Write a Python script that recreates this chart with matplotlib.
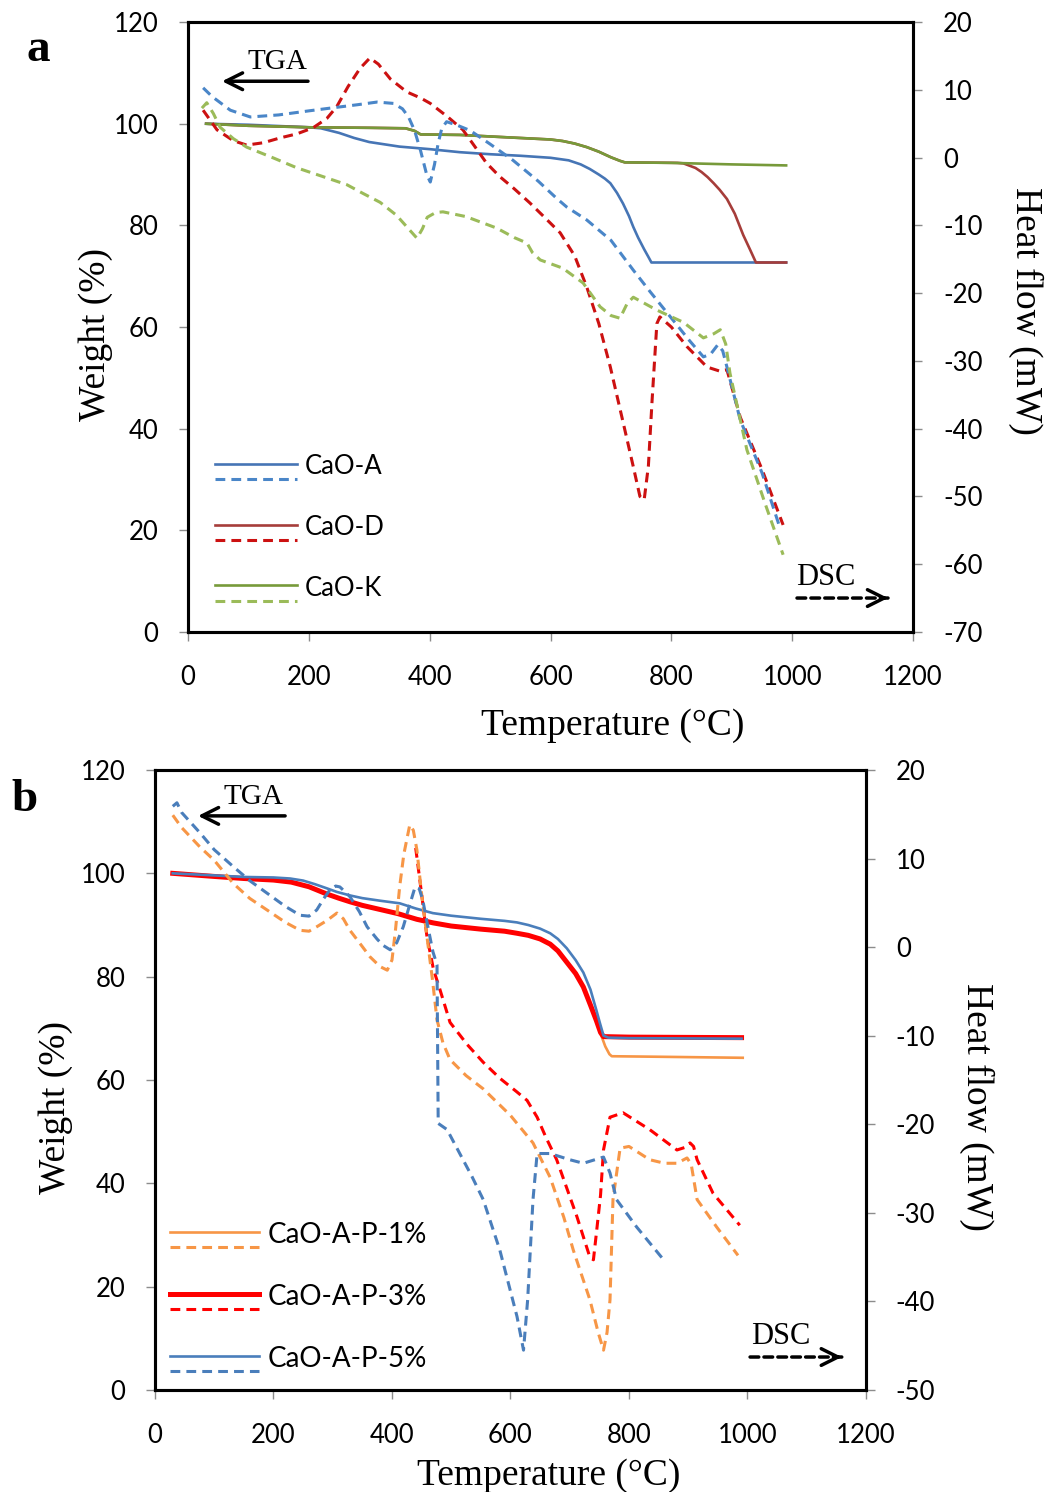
import numpy as np
import matplotlib
matplotlib.use("Agg")
from matplotlib import pyplot as plt
from matplotlib.lines import Line2D
from matplotlib.legend_handler import HandlerBase

plt.rcParams['font.family'] = ['Lato', 'DejaVu Sans']
plt.rcParams['axes.unicode_minus'] = False

# ---------------- panel a: CaO catalysts ----------------
# TGA (weight %, left axis)
tA_tga = [30, 100, 200, 220, 250, 275, 300, 350, 400, 450, 500, 550, 600, 630, 650, 665, 680, 690, 699, 710, 720, 730,
          737, 745, 755, 762, 767, 800, 900, 990]
wA_tga = [100.0, 99.8, 99.3, 99.1, 98.2, 97.2, 96.4, 95.5, 95.0, 94.4, 94.0, 93.7, 93.3, 92.8, 92.0, 91.1, 90.0, 89.2,
          88.3, 86.4, 84.3, 81.8, 79.7, 77.6, 75.3, 73.8, 72.7, 72.7, 72.7, 72.7]

tD_tga = [30, 100, 200, 300, 360, 375, 385, 450, 516, 600, 620, 640, 660, 680, 700, 715, 723, 810, 820, 840, 850, 860,
          870, 880, 892, 905, 919, 930, 940, 990]
wD_tga = [100.0, 99.6, 99.3, 99.2, 99.1, 98.6, 97.9, 97.8, 97.4, 96.9, 96.6, 96.1, 95.4, 94.5, 93.4, 92.7, 92.4, 92.3,
          92.2, 91.3, 90.5, 89.5, 88.3, 87.0, 85.2, 82.3, 78.1, 75.3, 72.7, 72.7]

tK_tga = [30, 100, 200, 300, 360, 375, 385, 450, 516, 600, 620, 640, 660, 680, 700, 715, 723, 800, 900, 990]
wK_tga = [100.0, 99.6, 99.3, 99.2, 99.1, 98.6, 97.9, 97.8, 97.4, 96.9, 96.6, 96.1, 95.4, 94.5, 93.4, 92.7, 92.4, 92.3,
          92.0, 91.8]

# DSC (heat flow mW, right axis)
tA_dsc = [25, 40, 70, 103, 150, 200, 235, 280, 313, 340, 355, 365, 375, 385, 395, 401, 408, 414, 420, 428, 445, 467,
          500, 538, 580, 610, 627, 660, 700, 737, 765, 793, 830, 853, 865, 877, 885, 892, 914, 950, 980]
hA_dsc = [10.3, 9.0, 7.0, 6.0, 6.3, 6.9, 7.3, 7.8, 8.2, 8.0, 7.2, 6.0, 4.0, 1.0, -2.5, -3.6, -1.0, 2.1, 4.3, 5.3, 4.8, 4.0,
          2.0, -0.4, -3.5, -6.0, -7.3, -9.2, -12.2, -16.6, -19.8, -22.9, -27.0, -29.4, -29.0, -27.6, -28.5, -30.9, -38.7,
          -46.5, -54.7]

tD_dsc = [25, 48, 75, 97, 125, 152, 180, 207, 230, 246, 265, 285, 301, 315, 335, 362, 385, 401, 430, 455, 475, 494,
          516, 540, 566, 590, 616, 640, 660, 680, 699, 720, 737, 748, 755, 762, 768, 776, 781, 800, 826, 859, 880, 892,
          914, 950, 985]
hD_dsc = [7.0, 4.1, 2.5, 1.85, 2.2, 2.9, 3.5, 4.4, 5.8, 7.5, 10.5, 13.2, 14.7, 13.8, 11.6, 9.7, 8.8, 8.0, 6.0, 4.1, 1.6,
          -0.8, -2.8, -4.6, -6.7, -8.8, -11.1, -14.5, -19.1, -24.5, -30.9, -39.0, -45.6, -50.0, -50.5, -45.5, -36.0,
          -24.5, -23.5, -25.0, -27.9, -30.9, -31.5, -31.3, -38.3, -46.0, -54.2]

tK_dsc = [23, 31, 42, 53, 75, 97, 140, 180, 220, 263, 290, 318, 345, 362, 379, 388, 396, 410, 422, 460, 511, 540, 561,
          570, 583, 620, 654, 682, 700, 715, 727, 737, 776, 820, 853, 870, 881, 890, 897, 925, 955, 985]
hK_dsc = [7.3, 8.1, 6.5, 4.5, 2.8, 1.55, 0.0, -1.5, -2.7, -4.0, -5.3, -6.6, -8.5, -10.2, -11.9, -10.5, -8.8, -8.1, -8.0,
          -8.7, -10.4, -11.8, -12.6, -14.0, -15.1, -16.3, -18.5, -22.0, -23.3, -23.7, -21.5, -20.6, -22.5, -24.3, -26.6,
          -26.0, -25.4, -27.5, -31.8, -43.1, -51.0, -58.6]

labels_a = ['CaO-A', 'CaO-D', 'CaO-K']

# ---------------- panel b: P-doped CaO-A ----------------
t1_tga = [30, 100, 150, 200, 230, 260, 290, 310, 329, 350, 380, 410, 442, 470, 500, 550, 590, 611, 630, 650, 667, 680,
          695, 710, 723, 735, 745, 752, 760, 767, 771, 850, 992]
w1_tga = [100.0, 99.4, 99.0, 98.7, 98.3, 97.4, 96.0, 95.2, 94.5, 93.8, 93.0, 92.2, 91.1, 90.4, 89.8, 89.2, 88.8, 88.4,
          88.0, 87.3, 86.3, 85.0, 82.8, 80.6, 78.0, 74.5, 71.5, 69.0, 66.5, 65.0, 64.6, 64.5, 64.3]

t3_tga = [30, 100, 150, 200, 230, 260, 290, 310, 329, 350, 380, 410, 442, 470, 500, 550, 590, 611, 630, 650, 667, 680,
          695, 710, 723, 735, 745, 752, 757, 800, 990]
w3_tga = [100.0, 99.4, 99.0, 98.7, 98.3, 97.4, 96.0, 95.2, 94.5, 93.8, 93.0, 92.2, 91.1, 90.4, 89.8, 89.2, 88.8, 88.4,
          88.0, 87.3, 86.3, 85.0, 82.8, 80.6, 78.0, 74.5, 71.5, 69.2, 68.4, 68.3, 68.2]

t5_tga = [30, 100, 150, 200, 228, 250, 270, 290, 307, 330, 350, 380, 413, 440, 469, 500, 550, 590, 611, 630, 650, 667,
          680, 695, 710, 723, 735, 745, 751, 757, 765, 800, 990]
w5_tga = [100.0, 99.6, 99.3, 99.2, 99.0, 98.6, 97.9, 97.1, 96.4, 95.7, 95.2, 94.7, 94.2, 93.2, 92.3, 91.8, 91.2, 90.8,
          90.5, 90.0, 89.3, 88.4, 87.3, 85.5, 83.2, 80.8, 77.5, 73.5, 71.0, 68.6, 68.2, 68.1, 68.0]

t1_dsc = [30, 45, 76, 100, 132, 160, 189, 220, 245, 260, 273, 290, 307, 318, 329, 345, 363, 380, 392, 400, 406, 413,
          420, 430, 436, 442, 450, 459, 468, 476, 486, 498, 525, 554, 600, 638, 667, 690, 706, 734, 748, 757, 763, 768,
          773, 785, 800, 835, 860, 881, 898, 905, 915, 948, 984]
h1_dsc = [14.9, 13.5, 11.3, 9.8, 7.2, 5.5, 4.2, 2.8, 1.9, 1.8, 2.3, 3.0, 3.85, 3.2, 1.9, 0.5, -1.1, -2.2, -2.6, -1.45,
          2.0, 6.85, 10.5, 13.8, 13.2, 11.0, 6.0, 1.2, -3.5, -8.2, -10.8, -12.7, -14.5, -16.0, -19.0, -22.1, -26.0,
          -30.5, -34.2, -39.8, -43.5, -45.5, -43.5, -39.8, -28.5, -22.7, -22.5, -24.0, -24.4, -24.4, -23.8, -24.5,
          -28.5, -31.6, -34.8]

t3_dsc = [440, 450, 459, 470, 481, 498, 527, 554, 582, 610, 628, 645, 660, 678, 712, 734, 740, 745, 752, 757, 768, 790,
          835, 881, 895, 903, 909, 915, 942, 987]
h3_dsc = [11.2, 6.0, 1.2, -2.5, -4.8, -8.5, -11.0, -13.0, -14.8, -16.3, -17.3, -19.2, -21.5, -24.0, -30.4, -35.0,
          -35.3, -32.3, -28.0, -22.9, -19.2, -18.7, -20.6, -22.9, -22.6, -22.1, -22.5, -24.0, -27.8, -31.4]

t5_dsc = [30, 37, 45, 76, 100, 132, 160, 189, 220, 245, 260, 273, 285, 295, 305, 312, 320, 329, 345, 358, 375, 385, 397,
          408, 419, 430, 439, 446, 452, 460, 469, 476, 478, 493, 535, 554, 582, 611, 622, 629, 638, 645, 667, 700, 723,
          757, 768, 779, 813, 856]
h5_dsc = [15.9, 16.3, 15.2, 12.9, 11.0, 9.1, 7.5, 6.1, 4.6, 3.6, 3.5, 4.2, 5.5, 6.45, 6.9, 6.8, 6.3, 5.7, 4.0, 2.3, 0.9,
          0.2, -0.3, 0.5, 2.3, 4.8, 6.8, 6.6, 5.3, 2.5, -0.5, -2.0, -19.9, -20.6, -25.9, -28.5, -34.2, -41.7, -45.5,
          -39.8, -28.5, -23.3, -23.3, -24.0, -24.4, -23.7, -25.5, -28.5, -31.6, -35.1]

labels_b = ['CaO-A-P-1%', 'CaO-A-P-3%', 'CaO-A-P-5%']

DASH = (0, (3.2, 2.0))
SERIF = 'Liberation Serif'


class StackedHandler(HandlerBase):
    """Legend key with the solid TGA line above the dashed DSC line."""
    def create_artists(self, legend, orig_handle, xdescent, ydescent,
                       width, height, fontsize, trans):
        solid, dashed = orig_handle
        y0 = (height - ydescent) / 2 + 1.0
        out = []
        for ln, yy in ((solid, y0), (dashed, y0 - 11.0)):
            l = Line2D([-xdescent, -xdescent + width], [yy, yy],
                       color=ln.get_color(), lw=ln.get_linewidth(),
                       linestyle=ln.get_linestyle())
            if ln is dashed:
                l.set_dashes((3.2, 2.0))
            l.set_transform(trans)
            out.append(l)
        return out


def style_axes(ax, ax2):
    for a in (ax, ax2):
        for s in a.spines.values():
            s.set_linewidth(2.2)
            s.set_color('black')
    ax.tick_params(axis='both', direction='out', length=6.5, width=1.0,
                   color='#8c8c8c', labelsize=18.5, pad=15)
    ax.tick_params(axis='x', pad=17)
    ax2.tick_params(axis='y', direction='out', length=6.5, width=1.0,
                    color='#8c8c8c', labelsize=18.5, pad=15)


def arrow(ax, tail, head, dashed=False):
    if dashed:
        ax.annotate('', xy=head, xytext=tail, xycoords='axes fraction',
                    arrowprops=dict(arrowstyle='-', lw=2.5, color='k',
                                    linestyle=(0, (2.5, 1.5)), shrinkA=0, shrinkB=0))
        back = (head[0] - 0.01, head[1])
        ax.annotate('', xy=head, xytext=back, xycoords='axes fraction',
                    arrowprops=dict(arrowstyle='->', lw=2.5, color='k',
                                    mutation_scale=30, shrinkA=0, shrinkB=0))
    else:
        ax.annotate('', xy=head, xytext=tail, xycoords='axes fraction',
                    arrowprops=dict(arrowstyle='->', lw=2.5, color='k',
                                    mutation_scale=30, shrinkA=0, shrinkB=0))


fig = plt.figure(figsize=(10.48, 14.92), dpi=100)

# ---------------- panel a ----------------
ax = fig.add_axes([0.1794, 0.5764, 0.6918, 0.4088])
ax2 = ax.twinx()

colA, colAd = '#4675B5', '#4A86C8'
colD, colDd = '#A63D3A', '#CC1111'
colK, colKd = '#779A3A', '#9BBB59'

sA, = ax.plot(tA_tga, wA_tga, color=colA, lw=1.9)
sD, = ax.plot(tD_tga, wD_tga, color=colD, lw=1.9)
sK, = ax.plot(tK_tga, wK_tga, color=colK, lw=1.9)
dD, = ax2.plot(tD_dsc, hD_dsc, color=colDd, lw=2.2, linestyle=DASH)
dA, = ax2.plot(tA_dsc, hA_dsc, color=colAd, lw=2.2, linestyle=DASH)
dK, = ax2.plot(tK_dsc, hK_dsc, color=colKd, lw=2.2, linestyle=DASH)

ax.set_xlim(0, 1200)
ax.set_ylim(0, 120)
ax.set_xticks(np.arange(0, 1201, 200))
ax.set_yticks(np.arange(0, 121, 20))
ax2.set_ylim(-70, 20)
ax2.set_yticks(np.arange(-70, 21, 10))
style_axes(ax, ax2)

ax.set_xlabel('Temperature (°C)', family=SERIF, fontsize=27, ha='center', va='center')
ax.xaxis.set_label_coords(0.586, -0.153)
ax.set_ylabel('Weight (%)', family=SERIF, fontsize=27, ha='center', va='center')
ax.yaxis.set_label_coords(-0.127, 0.487)
ax2.set_ylabel('Heat flow (mW)', family=SERIF, fontsize=27, rotation=270, ha='center', va='center')
ax2.yaxis.set_label_coords(1.155, 0.526)

ax2.legend([(sA, dA), (sD, dD), (sK, dK)], labels_a,
           handler_map={tuple: StackedHandler()},
           loc='upper left', bbox_to_anchor=(0.037, 0.292),
           frameon=False, fontsize=18.5, handlelength=3.2,
           handletextpad=0.3, labelspacing=1.40, borderpad=0, borderaxespad=0)

ax2.text(0.124, 0.934, 'TGA', transform=ax2.transAxes, family=SERIF, fontsize=21, ha='center', va='center')
arrow(ax2, (0.1655, 0.903), (0.0469, 0.903))
ax2.text(0.88, 0.090, 'DSC', transform=ax2.transAxes, family=SERIF, fontsize=22, ha='center', va='center')
arrow(ax2, (0.84, 0.0557), (0.9655, 0.0557), dashed=True)

fig.text(38 / 1048, 1 - 50 / 1492, 'a', family=SERIF, fontweight='bold', fontsize=34, ha='center', va='center')

# ---------------- panel b ----------------
bx = fig.add_axes([0.1479, 0.06836, 0.6784, 0.41555])
bx2 = bx.twinx()

col1, col3, col5 = '#F79646', '#FF0000', '#4A7EBB'

s1, = bx.plot(t1_tga, w1_tga, color=col1, lw=1.9)
s3, = bx.plot(t3_tga, w3_tga, color=col3, lw=3.6)
s5, = bx.plot(t5_tga, w5_tga, color=col5, lw=1.9)
d3, = bx2.plot(t3_dsc, h3_dsc, color=col3, lw=2.2, linestyle=DASH)
d1, = bx2.plot(t1_dsc, h1_dsc, color=col1, lw=2.2, linestyle=DASH)
d5, = bx2.plot(t5_dsc, h5_dsc, color=col5, lw=2.2, linestyle=DASH)

bx.set_xlim(0, 1200)
bx.set_ylim(0, 120)
bx.set_xticks(np.arange(0, 1201, 200))
bx.set_yticks(np.arange(0, 121, 20))
bx2.set_ylim(-50, 20)
bx2.set_yticks(np.arange(-50, 21, 10))
style_axes(bx, bx2)

bx.set_xlabel('Temperature (°C)', family=SERIF, fontsize=27, ha='center', va='center')
bx.xaxis.set_label_coords(0.554, -0.138)
bx.set_ylabel('Weight (%)', family=SERIF, fontsize=27, ha='center', va='center')
bx.yaxis.set_label_coords(-0.139, 0.456)
bx2.set_ylabel('Heat flow (mW)', family=SERIF, fontsize=27, rotation=270, ha='center', va='center')
bx2.yaxis.set_label_coords(1.156, 0.456)

bx2.legend([(s1, d1), (s3, d3), (s5, d5)], labels_b,
           handler_map={tuple: StackedHandler()},
           loc='upper left', bbox_to_anchor=(0.021, 0.271),
           frameon=False, fontsize=20, handlelength=3.2,
           handletextpad=0.3, labelspacing=1.295, borderpad=0, borderaxespad=0)

bx2.text(0.138, 0.956, 'TGA', transform=bx2.transAxes, family=SERIF, fontsize=21, ha='center', va='center')
arrow(bx2, (0.183, 0.926), (0.0605, 0.926))
bx2.text(0.8805, 0.0855, 'DSC', transform=bx2.transAxes, family=SERIF, fontsize=22, ha='center', va='center')
arrow(bx2, (0.837, 0.0532), (0.966, 0.0532), dashed=True)

fig.text(25 / 1048, 1 - 800 / 1492, 'b', family=SERIF, fontweight='bold', fontsize=34, ha='center', va='center')

fig.savefig('out.png', dpi=100)
